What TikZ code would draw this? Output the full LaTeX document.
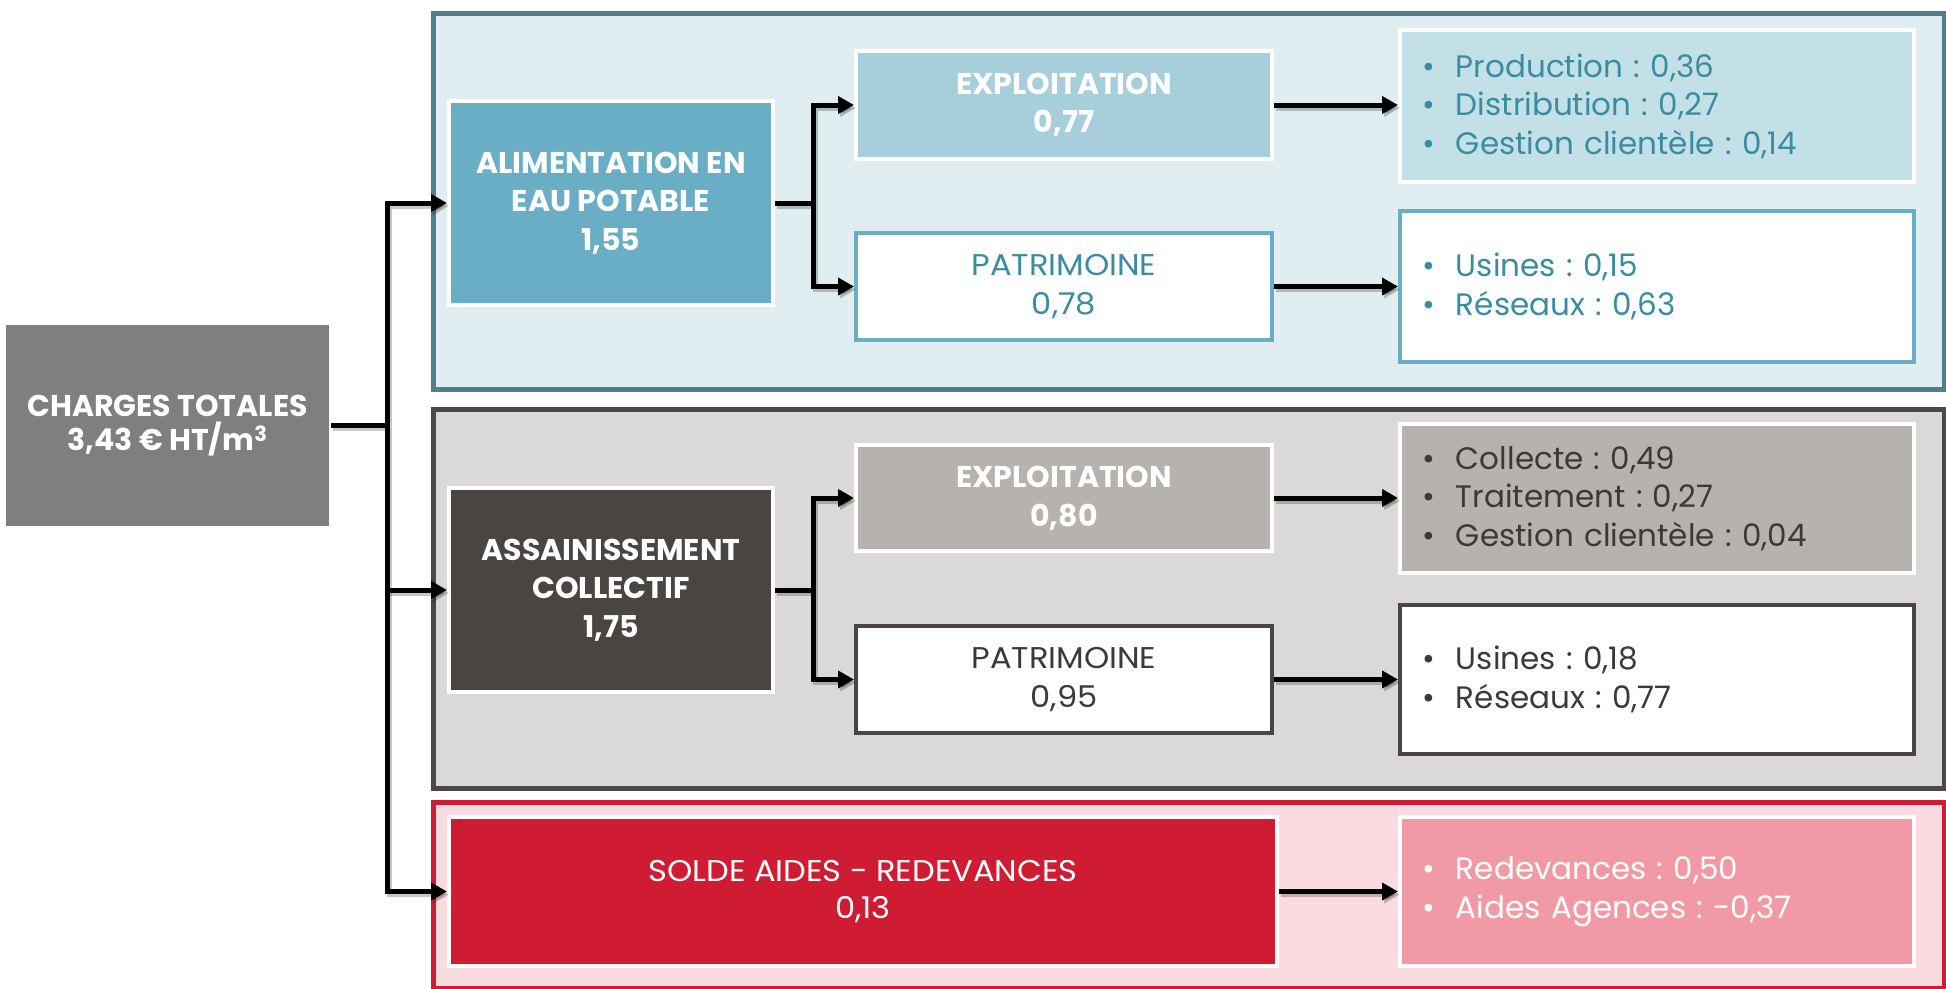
\documentclass[tikz,border=0pt]{standalone}
\usepackage{fontspec}
\setmainfont{Poppins}
\frenchspacing
\usetikzlibrary{arrows.meta}
\definecolor{bsecF}{HTML}{E0EEF2}
\definecolor{bsecD}{HTML}{4E7F8E}
\definecolor{aepF}{HTML}{6AAEC5}
\definecolor{exbF}{HTML}{A6CEDB}
\definecolor{lbF}{HTML}{C3E0E7}
\definecolor{tealT}{HTML}{3A8CA1}
\definecolor{gsecF}{HTML}{DAD9D7}
\definecolor{gsecD}{HTML}{4D4846}
\definecolor{assF}{HTML}{4A4543}
\definecolor{exgF}{HTML}{B8B2AF}
\definecolor{grayT}{HTML}{3D3938}
\definecolor{rsecF}{HTML}{F9DBE0}
\definecolor{rsecD}{HTML}{D01C33}
\definecolor{solF}{HTML}{D01C33}
\definecolor{lrF}{HTML}{F19AA5}
\definecolor{totF}{HTML}{7F7F7F}
\begin{document}
\begin{tikzpicture}[x=1pt,y=-1pt,
  section/.style={draw, line width=5pt, anchor=north west, inner sep=0pt},
  box/.style={anchor=north west, inner sep=0pt, line width=4pt, align=center,
     font=\fontsize{30pt}{38.5pt}\selectfont\addfontfeature{FakeStretch=1.07}},
  bbox/.style={box, font=\fontsize{30pt}{38.5pt}\selectfont\bfseries},
  list/.style={box, align=left, inner xsep=22pt, font=\fontsize{31pt}{38.5pt}\selectfont},
  ln/.style={line width=5pt, line join=miter},
  arr/.style={ln, -{Triangle[length=16pt,width=17pt]}},
  darr/.style={ln, {Triangle[length=16pt,width=17pt]}-{Triangle[length=16pt,width=17pt]}},
  shd/.style={draw=black, opacity=0.22, transform canvas={shift={(2pt,-3pt)}}}
]
\useasboundingbox (0,0) rectangle (1946,988);
\newcommand{\bul}{\makebox[34pt][l]{•}}
\newcommand{\conn}[2]{\draw[#1, shd] #2; \draw[#1] #2;}

% sections
\node[section, fill=bsecF, draw=bsecD, minimum width=1511pt, minimum height=376pt] (s1) at (431,11) {};
\node[section, fill=gsecF, draw=gsecD, minimum width=1511pt, minimum height=379pt] (s2) at (431,407) {};
\node[section, fill=rsecF, draw=rsecD, minimum width=1511pt, minimum height=186pt] (s3) at (431,800) {};

% total
\node[bbox, fill=totF, text=white, minimum width=323pt, minimum height=201pt,
  font=\fontsize{30pt}{34pt}\selectfont\bfseries] (tot) at (4,323) {CHARGES TOTALES\\3,43 € HT/m\textsuperscript{3}};

% AEP
\node[bbox, fill=aepF, draw=white, text=white, minimum width=324pt, minimum height=204pt] (aep) at (447,99) {ALIMENTATION EN\\EAU POTABLE\\1,55};
\node[bbox, fill=exbF, draw=white, text=white, minimum width=416pt, minimum height=108pt] (ex1) at (854,49) {EXPLOITATION\\0,77};
\node[box, fill=white, draw=aepF, text=tealT, minimum width=416pt, minimum height=107pt] (pa1) at (854,231) {PATRIMOINE\\0,78};
\node[list, fill=lbF, draw=white, text=tealT, text width=470pt, minimum width=512pt, minimum height=152pt] (l1) at (1398,28) {\bul Production : 0,36\\\bul Distribution : 0,27\\\bul Gestion clientèle : 0,14};
\node[list, fill=white, draw=aepF, text=tealT, text width=470pt, minimum width=512pt, minimum height=151pt] (l2) at (1398,209) {\bul Usines : 0,15\\\bul Réseaux : 0,63};

% Assainissement
\node[bbox, fill=assF, draw=white, text=white, minimum width=324pt, minimum height=204pt] (ass) at (447,486) {ASSAINISSEMENT\\COLLECTIF\\1,75};
\node[bbox, fill=exgF, draw=white, text=white, minimum width=416pt, minimum height=106pt] (ex2) at (854,443) {EXPLOITATION\\0,80};
\node[box, fill=white, draw=assF, text=grayT, minimum width=416pt, minimum height=107pt] (pa2) at (854,624) {PATRIMOINE\\0,95};
\node[list, fill=exgF, draw=white, text=grayT, text width=470pt, minimum width=512pt, minimum height=149pt] (l3) at (1398,422) {\bul Collecte : 0,49\\\bul Traitement : 0,27\\\bul Gestion clientèle : 0,04};
\node[list, fill=white, draw=assF, text=grayT, text width=470pt, minimum width=512pt, minimum height=149pt] (l4) at (1398,603) {\bul Usines : 0,18\\\bul Réseaux : 0,77};

% Solde
\node[box, fill=solF, draw=white, text=white, minimum width=828pt, minimum height=149pt,
  font=\fontsize{30pt}{37pt}\selectfont\addfontfeature{FakeStretch=1.07}] (sol) at (447,815) {SOLDE AIDES - REDEVANCES\\0,13};
\node[list, fill=lrF, draw=white, text=white, text width=470pt, minimum width=512pt, minimum height=149pt] (l5) at (1398,815) {\bul Redevances : 0,50\\\bul Aides Agences : -0,37};

% connectors
\coordinate (jx) at (387,0);
\coordinate (j1) at (813,0);
\conn{ln}{(tot.east) -- (tot.east -| jx)}
\conn{darr}{(aep.west) -- (aep.west -| jx) -- (sol.west -| jx) -- (sol.west)}
\conn{arr}{(ass.west -| jx) -- (ass.west)}

\conn{ln}{(aep.east) -- (aep.east -| j1)}
\conn{darr}{(ex1.west) -- (ex1.west -| j1) -- (pa1.west -| j1) -- (pa1.west)}
\conn{ln}{(ass.east) -- (ass.east -| j1)}
\conn{darr}{(ex2.west) -- (ex2.west -| j1) -- (pa2.west -| j1) -- (pa2.west)}

\conn{arr}{(ex1.east) -- (l1.west |- ex1.east)}
\conn{arr}{(pa1.east) -- (l2.west |- pa1.east)}
\conn{arr}{(ex2.east) -- (l3.west |- ex2.east)}
\conn{arr}{(pa2.east) -- (l4.west |- pa2.east)}
\conn{arr}{(sol.east) -- (l5.west)}
\end{tikzpicture}
\end{document}
